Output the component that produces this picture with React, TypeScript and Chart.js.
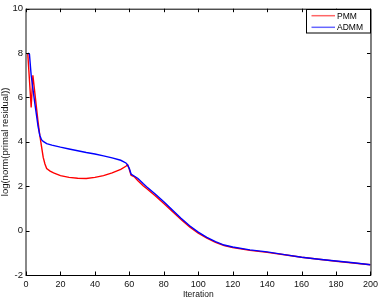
import { useEffect, useRef } from "react";
import { Chart, registerables } from "chart.js";

Chart.register(...registerables);

const seriesNames = ["PMM", "ADMM"];
const seriesColors = ["#ff0000", "#0000ff"];

const pmmX = [1, 2, 3, 4, 5, 6, 7, 8, 9, 10, 11, 12, 14, 16, 20, 25, 30, 35, 40, 45, 50, 55, 58, 59, 60, 61, 63, 65, 68, 70, 75, 80, 85, 90, 95, 100, 105, 110, 115, 120, 130, 140, 150, 160, 170, 180, 190, 200];
const pmmY = [8.0, 6.8, 5.55, 7.0, 6.3, 5.6, 4.9, 4.3, 3.8, 3.3, 3.0, 2.8, 2.68, 2.6, 2.48, 2.4, 2.36, 2.35, 2.4, 2.48, 2.6, 2.76, 2.9, 2.97, 2.75, 2.5, 2.42, 2.25, 2.02, 1.9, 1.57, 1.22, 0.86, 0.5, 0.17, -0.12, -0.34, -0.53, -0.67, -0.76, -0.89, -0.98, -1.09, -1.2, -1.29, -1.38, -1.46, -1.54];

const admmX = [1, 2, 3, 4, 5, 6, 7, 8, 9, 10, 12, 15, 20, 25, 30, 35, 40, 45, 50, 55, 58, 59, 60, 61, 63, 65, 68, 70, 75, 80, 85, 90, 95, 100, 105, 110, 115, 120, 130, 140, 150, 160, 170, 180, 190, 200];
const admmY = [8.0, 7.95, 7.0, 6.4, 5.8, 5.25, 4.7, 4.3, 4.1, 4.02, 3.92, 3.85, 3.76, 3.68, 3.6, 3.52, 3.45, 3.37, 3.28, 3.17, 3.05, 2.95, 2.8, 2.55, 2.45, 2.35, 2.12, 1.98, 1.65, 1.3, 0.93, 0.56, 0.22, -0.07, -0.3, -0.5, -0.65, -0.74, -0.87, -0.96, -1.08, -1.2, -1.29, -1.37, -1.45, -1.54];

const xTicks = [0, 20, 40, 60, 80, 100, 120, 140, 160, 180, 200];
const yTicks = [-2, 0, 2, 4, 6, 8, 10];
const xTitle = "Iteration";
const yTitle = "log(norm(primal residual))";

const FONT = "'Liberation Sans', Arial, Helvetica, sans-serif";

const framePlugin = {
  id: "frameAndLegend",
  afterDraw(chart: any) {
    const { ctx, chartArea } = chart;
    const { left, right, top, bottom } = chartArea;
    const xs = chart.scales.x;
    const ys = chart.scales.y;
    ctx.save();
    ctx.strokeStyle = "#000";
    ctx.lineWidth = 1;
    ctx.beginPath();
    ctx.moveTo(left, top + 0.5);
    ctx.lineTo(right + 0.5, top + 0.5);
    ctx.lineTo(right + 0.5, bottom + 0.5);
    ctx.lineTo(left, bottom + 0.5);
    ctx.stroke();
    ctx.strokeStyle = "#888";
    ctx.lineWidth = 2;
    ctx.beginPath();
    ctx.moveTo(left, top);
    ctx.lineTo(left, bottom + 1);
    ctx.stroke();
    ctx.strokeStyle = "#000";
    ctx.lineWidth = 1;
    const tl = 3.5;
    ctx.beginPath();
    for (const v of xTicks) {
      const px = Math.round(xs.getPixelForValue(v)) + 0.5;
      ctx.moveTo(px, bottom);
      ctx.lineTo(px, bottom - tl);
      ctx.moveTo(px, top);
      ctx.lineTo(px, top + tl);
    }
    for (const v of yTicks) {
      const py = Math.round(ys.getPixelForValue(v)) + 0.5;
      ctx.moveTo(left, py);
      ctx.lineTo(left + tl, py);
      ctx.moveTo(right, py);
      ctx.lineTo(right - tl, py);
    }
    ctx.stroke();
    const bx = 306.5, by = 9.5, bw = 64, bh = 23.5;
    ctx.fillStyle = "#fff";
    ctx.fillRect(bx, by, bw, bh);
    ctx.strokeStyle = "#000";
    ctx.lineWidth = 1;
    ctx.strokeRect(bx, by, bw, bh);
    ctx.font = `8.5px ${FONT}`;
    ctx.textBaseline = "middle";
    ctx.textAlign = "left";
    const rows = [15.7, 27.3];
    seriesNames.forEach((name, i) => {
      ctx.strokeStyle = seriesColors[i];
      ctx.globalAlpha = 0.6;
      ctx.lineWidth = 1.5;
      ctx.beginPath();
      ctx.moveTo(311.5, rows[i]);
      ctx.lineTo(335, rows[i]);
      ctx.stroke();
      ctx.globalAlpha = 1;
      ctx.fillStyle = "#000";
      ctx.fillText(name, 337, rows[i] + 0.5);
    });
    ctx.restore();
  },
};

export default function App() {
  const ref = useRef<HTMLCanvasElement | null>(null);
  useEffect(() => {
    if (!ref.current) return;
    const chart = new Chart(ref.current, {
      type: "line",
      data: {
        datasets: [
          {
            label: seriesNames[0],
            data: pmmX.map((x, i) => ({ x, y: pmmY[i] })),
            borderColor: seriesColors[0],
            borderWidth: 1.4,
            pointRadius: 0,
            tension: 0,
            fill: false,
            order: 1,
          },
          {
            label: seriesNames[1],
            data: admmX.map((x, i) => ({ x, y: admmY[i] })),
            borderColor: seriesColors[1],
            borderWidth: 1.4,
            pointRadius: 0,
            tension: 0,
            fill: false,
            order: 0,
          },
        ],
      },
      options: {
        animation: false,
        responsive: false,
        maintainAspectRatio: false,
        layout: { padding: { left: 0, right: 9, top: 5, bottom: 0 } },
        plugins: { legend: { display: false }, tooltip: { enabled: false } },
        scales: {
          x: {
            type: "linear",
            min: 0,
            max: 200,
            grid: { display: false, drawTicks: false },
            border: { display: false },
            ticks: {
              stepSize: 20,
              autoSkip: false,
              maxRotation: 0,
              padding: 4,
              color: "#111",
              font: { family: FONT, size: 9 },
            },
            title: {
              display: true,
              text: xTitle,
              color: "#111",
              padding: 0,
              font: { family: FONT, size: 8.5 },
            },
            afterFit(scale: any) {
              scale.height = 25;
            },
          },
          y: {
            type: "linear",
            min: -2,
            max: 10,
            grid: { display: false, drawTicks: false },
            border: { display: false },
            ticks: {
              stepSize: 2,
              autoSkip: false,
              padding: 3,
              color: "#111",
              font: { family: FONT, size: 9.5 },
            },
            title: {
              display: true,
              text: yTitle,
              color: "#111",
              padding: 0,
              font: { family: FONT, size: 9.5 },
            },
            afterFit(scale: any) {
              scale.width = 26;
            },
          },
        },
      },
      plugins: [framePlugin],
    });
    return () => chart.destroy();
  }, []);
  return (
    <div style={{ position: "absolute", left: 0, top: 0, width: 382, height: 300, background: "#fff" }}>
      <canvas ref={ref} width={382} height={300} style={{ display: "block" }} />
    </div>
  );
}
